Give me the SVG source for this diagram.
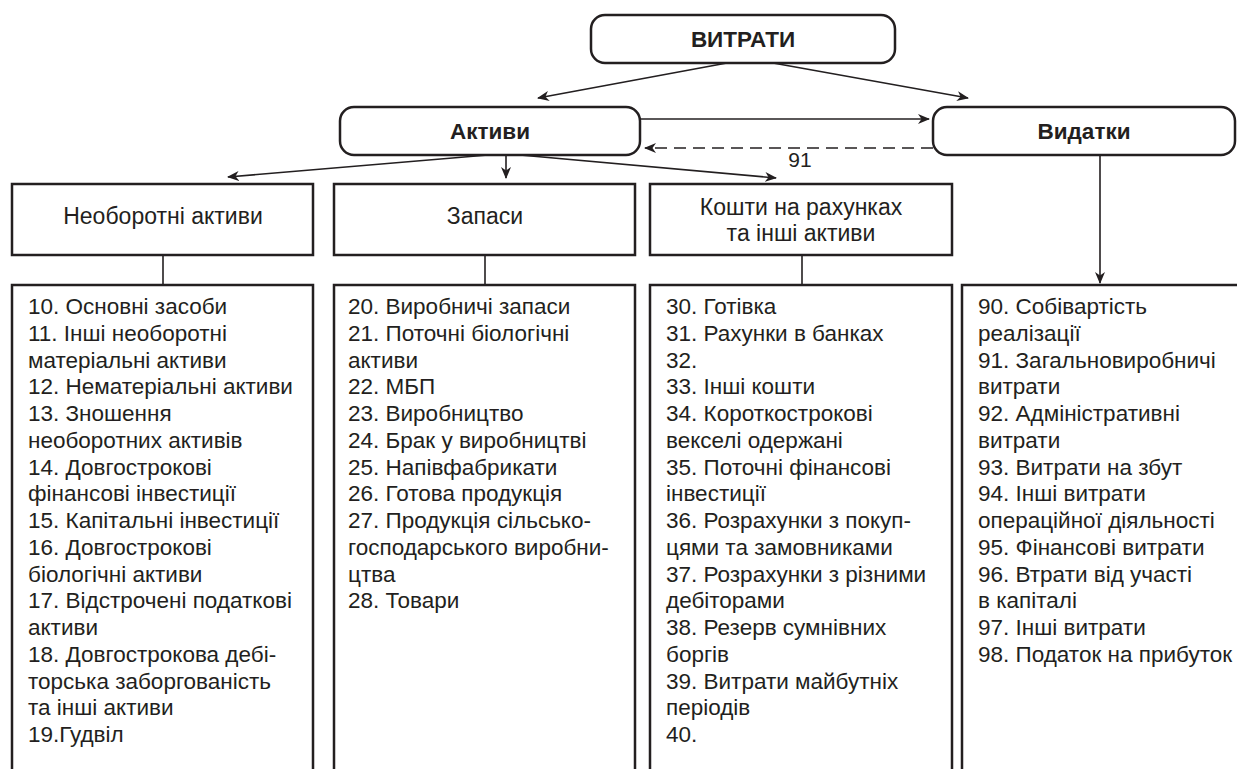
<svg xmlns="http://www.w3.org/2000/svg" width="1237" height="769" viewBox="0 0 1237 769">
<defs>
<marker id="ah" viewBox="0 0 12 10" refX="11" refY="5" markerWidth="12" markerHeight="10" markerUnits="userSpaceOnUse" orient="auto">
<path d="M0,0 L12,5 L0,10 L3.5,5 z" fill="#231f20"/>
</marker>
<style>
.rb{fill:#fff;stroke:#231f20;stroke-width:2.5}
.bx{fill:#fff;stroke:#231f20;stroke-width:2.5}
.ln{fill:none;stroke:#231f20;stroke-width:1.6}
.ar{fill:none;stroke:#231f20;stroke-width:1.6;marker-end:url(#ah)}
.ds{stroke-dasharray:12,7}
.t{font-family:"Liberation Sans",Arial,sans-serif;fill:#231f20}
.b{font-weight:bold;font-size:22.5px;text-anchor:middle}
.h{font-size:23px;text-anchor:middle}
.l{font-size:22.5px}
</style>
</defs>
<rect width="1237" height="769" fill="#fff"/>
<g id="connectors">
<line class="ar" x1="727" y1="63" x2="538" y2="98"/>
<line class="ar" x1="773" y1="63" x2="968" y2="98"/>
<line class="ar" x1="640" y1="119" x2="929" y2="119"/>
<line class="ar ds" x1="933" y1="148" x2="645" y2="148"/>
<line class="ar" x1="488" y1="155" x2="228" y2="177"/>
<line class="ar" x1="506" y1="155" x2="506" y2="178"/>
<line class="ar" x1="520" y1="155" x2="776" y2="178"/>
<line class="ar" x1="1100" y1="155" x2="1100" y2="283"/>
<line class="ln" x1="163" y1="255" x2="163" y2="285"/>
<line class="ln" x1="485" y1="255" x2="485" y2="285"/>
<line class="ln" x1="802" y1="255" x2="802" y2="285"/>
<text class="t" x="800" y="167" font-size="21" text-anchor="middle">91</text>
</g>
<g id="vytraty">
<rect class="rb" x="591" y="15" width="304" height="48" rx="14"/>
<text class="t b" x="743" y="47">ВИТРАТИ</text>
</g>
<g id="aktyvy">
<rect class="rb" x="340" y="107" width="300" height="48" rx="14"/>
<text class="t b" x="490" y="139">Активи</text>
</g>
<g id="vydatky">
<rect class="rb" x="933" y="107" width="302" height="48" rx="14"/>
<text class="t b" x="1084" y="139">Видатки</text>
</g>
<g id="neoborotni">
<rect class="bx" x="12" y="184" width="301" height="71"/>
<text class="t h" x="163" y="224">Необоротні активи</text>
</g>
<g id="zapasy">
<rect class="bx" x="334" y="184" width="301" height="71"/>
<text class="t h" x="485" y="224">Запаси</text>
</g>
<g id="koshty">
<rect class="bx" x="650" y="184" width="302" height="71"/>
<text class="t h" x="801" y="215">Кошти на рахунках</text>
<text class="t h" x="801" y="241">та інші активи</text>
</g>
<g id="list1">
<path class="ln" d="M12,775 V285 H313 V775" style="stroke-width:2.5"/>
<text class="t l" x="28" y="314">
<tspan x="28" dy="0">10. Основні засоби</tspan>
<tspan x="28" dy="26.75">11. Інші необоротні</tspan>
<tspan x="28" dy="26.75">матеріальні активи</tspan>
<tspan x="28" dy="26.75">12. Нематеріальні активи</tspan>
<tspan x="28" dy="26.75">13. Зношення</tspan>
<tspan x="28" dy="26.75">необоротних активів</tspan>
<tspan x="28" dy="26.75">14. Довгострокові</tspan>
<tspan x="28" dy="26.75">фінансові інвестиції</tspan>
<tspan x="28" dy="26.75">15. Капітальні інвестиції</tspan>
<tspan x="28" dy="26.75">16. Довгострокові</tspan>
<tspan x="28" dy="26.75">біологічні активи</tspan>
<tspan x="28" dy="26.75">17. Відстрочені податкові</tspan>
<tspan x="28" dy="26.75">активи</tspan>
<tspan x="28" dy="26.75">18. Довгострокова дебі-</tspan>
<tspan x="28" dy="26.75">торська заборгованість</tspan>
<tspan x="28" dy="26.75">та інші активи</tspan>
<tspan x="28" dy="26.75">19.Гудвіл</tspan>
</text>
</g>
<g id="list2">
<path class="ln" d="M334,775 V285 H635 V775" style="stroke-width:2.5"/>
<text class="t l" x="348" y="314">
<tspan x="348" dy="0">20. Виробничі запаси</tspan>
<tspan x="348" dy="26.75">21. Поточні біологічні</tspan>
<tspan x="348" dy="26.75">активи</tspan>
<tspan x="348" dy="26.75">22. МБП</tspan>
<tspan x="348" dy="26.75">23. Виробництво</tspan>
<tspan x="348" dy="26.75">24. Брак у виробництві</tspan>
<tspan x="348" dy="26.75">25. Напівфабрикати</tspan>
<tspan x="348" dy="26.75">26. Готова продукція</tspan>
<tspan x="348" dy="26.75">27. Продукція сільсько-</tspan>
<tspan x="348" dy="26.75">господарського виробни-</tspan>
<tspan x="348" dy="26.75">цтва</tspan>
<tspan x="348" dy="26.75">28. Товари</tspan>
</text>
</g>
<g id="list3">
<path class="ln" d="M650,775 V285 H952 V775" style="stroke-width:2.5"/>
<text class="t l" x="666" y="314">
<tspan x="666" dy="0">30. Готівка</tspan>
<tspan x="666" dy="26.75">31. Рахунки в банках</tspan>
<tspan x="666" dy="26.75">32.</tspan>
<tspan x="666" dy="26.75">33. Інші кошти</tspan>
<tspan x="666" dy="26.75">34. Короткострокові</tspan>
<tspan x="666" dy="26.75">векселі одержані</tspan>
<tspan x="666" dy="26.75">35. Поточні фінансові</tspan>
<tspan x="666" dy="26.75">інвестиції</tspan>
<tspan x="666" dy="26.75">36. Розрахунки з покуп-</tspan>
<tspan x="666" dy="26.75">цями та замовниками</tspan>
<tspan x="666" dy="26.75">37. Розрахунки з різними</tspan>
<tspan x="666" dy="26.75">дебіторами</tspan>
<tspan x="666" dy="26.75">38. Резерв сумнівних</tspan>
<tspan x="666" dy="26.75">боргів</tspan>
<tspan x="666" dy="26.75">39. Витрати майбутніх</tspan>
<tspan x="666" dy="26.75">періодів</tspan>
<tspan x="666" dy="26.75">40.</tspan>
</text>
</g>
<g id="list4">
<path class="ln" d="M962,775 V285 H1245" style="stroke-width:2.5"/>
<text class="t l" x="978" y="314">
<tspan x="978" dy="0">90. Собівартість</tspan>
<tspan x="978" dy="26.75">реалізації</tspan>
<tspan x="978" dy="26.75">91. Загальновиробничі</tspan>
<tspan x="978" dy="26.75">витрати</tspan>
<tspan x="978" dy="26.75">92. Адміністративні</tspan>
<tspan x="978" dy="26.75">витрати</tspan>
<tspan x="978" dy="26.75">93. Витрати на збут</tspan>
<tspan x="978" dy="26.75">94. Інші витрати</tspan>
<tspan x="978" dy="26.75">операційної діяльності</tspan>
<tspan x="978" dy="26.75">95. Фінансові витрати</tspan>
<tspan x="978" dy="26.75">96. Втрати від участі</tspan>
<tspan x="978" dy="26.75">в капіталі</tspan>
<tspan x="978" dy="26.75">97. Інші витрати</tspan>
<tspan x="978" dy="26.75">98. Податок на прибуток</tspan>
</text>
</g>
</svg>
